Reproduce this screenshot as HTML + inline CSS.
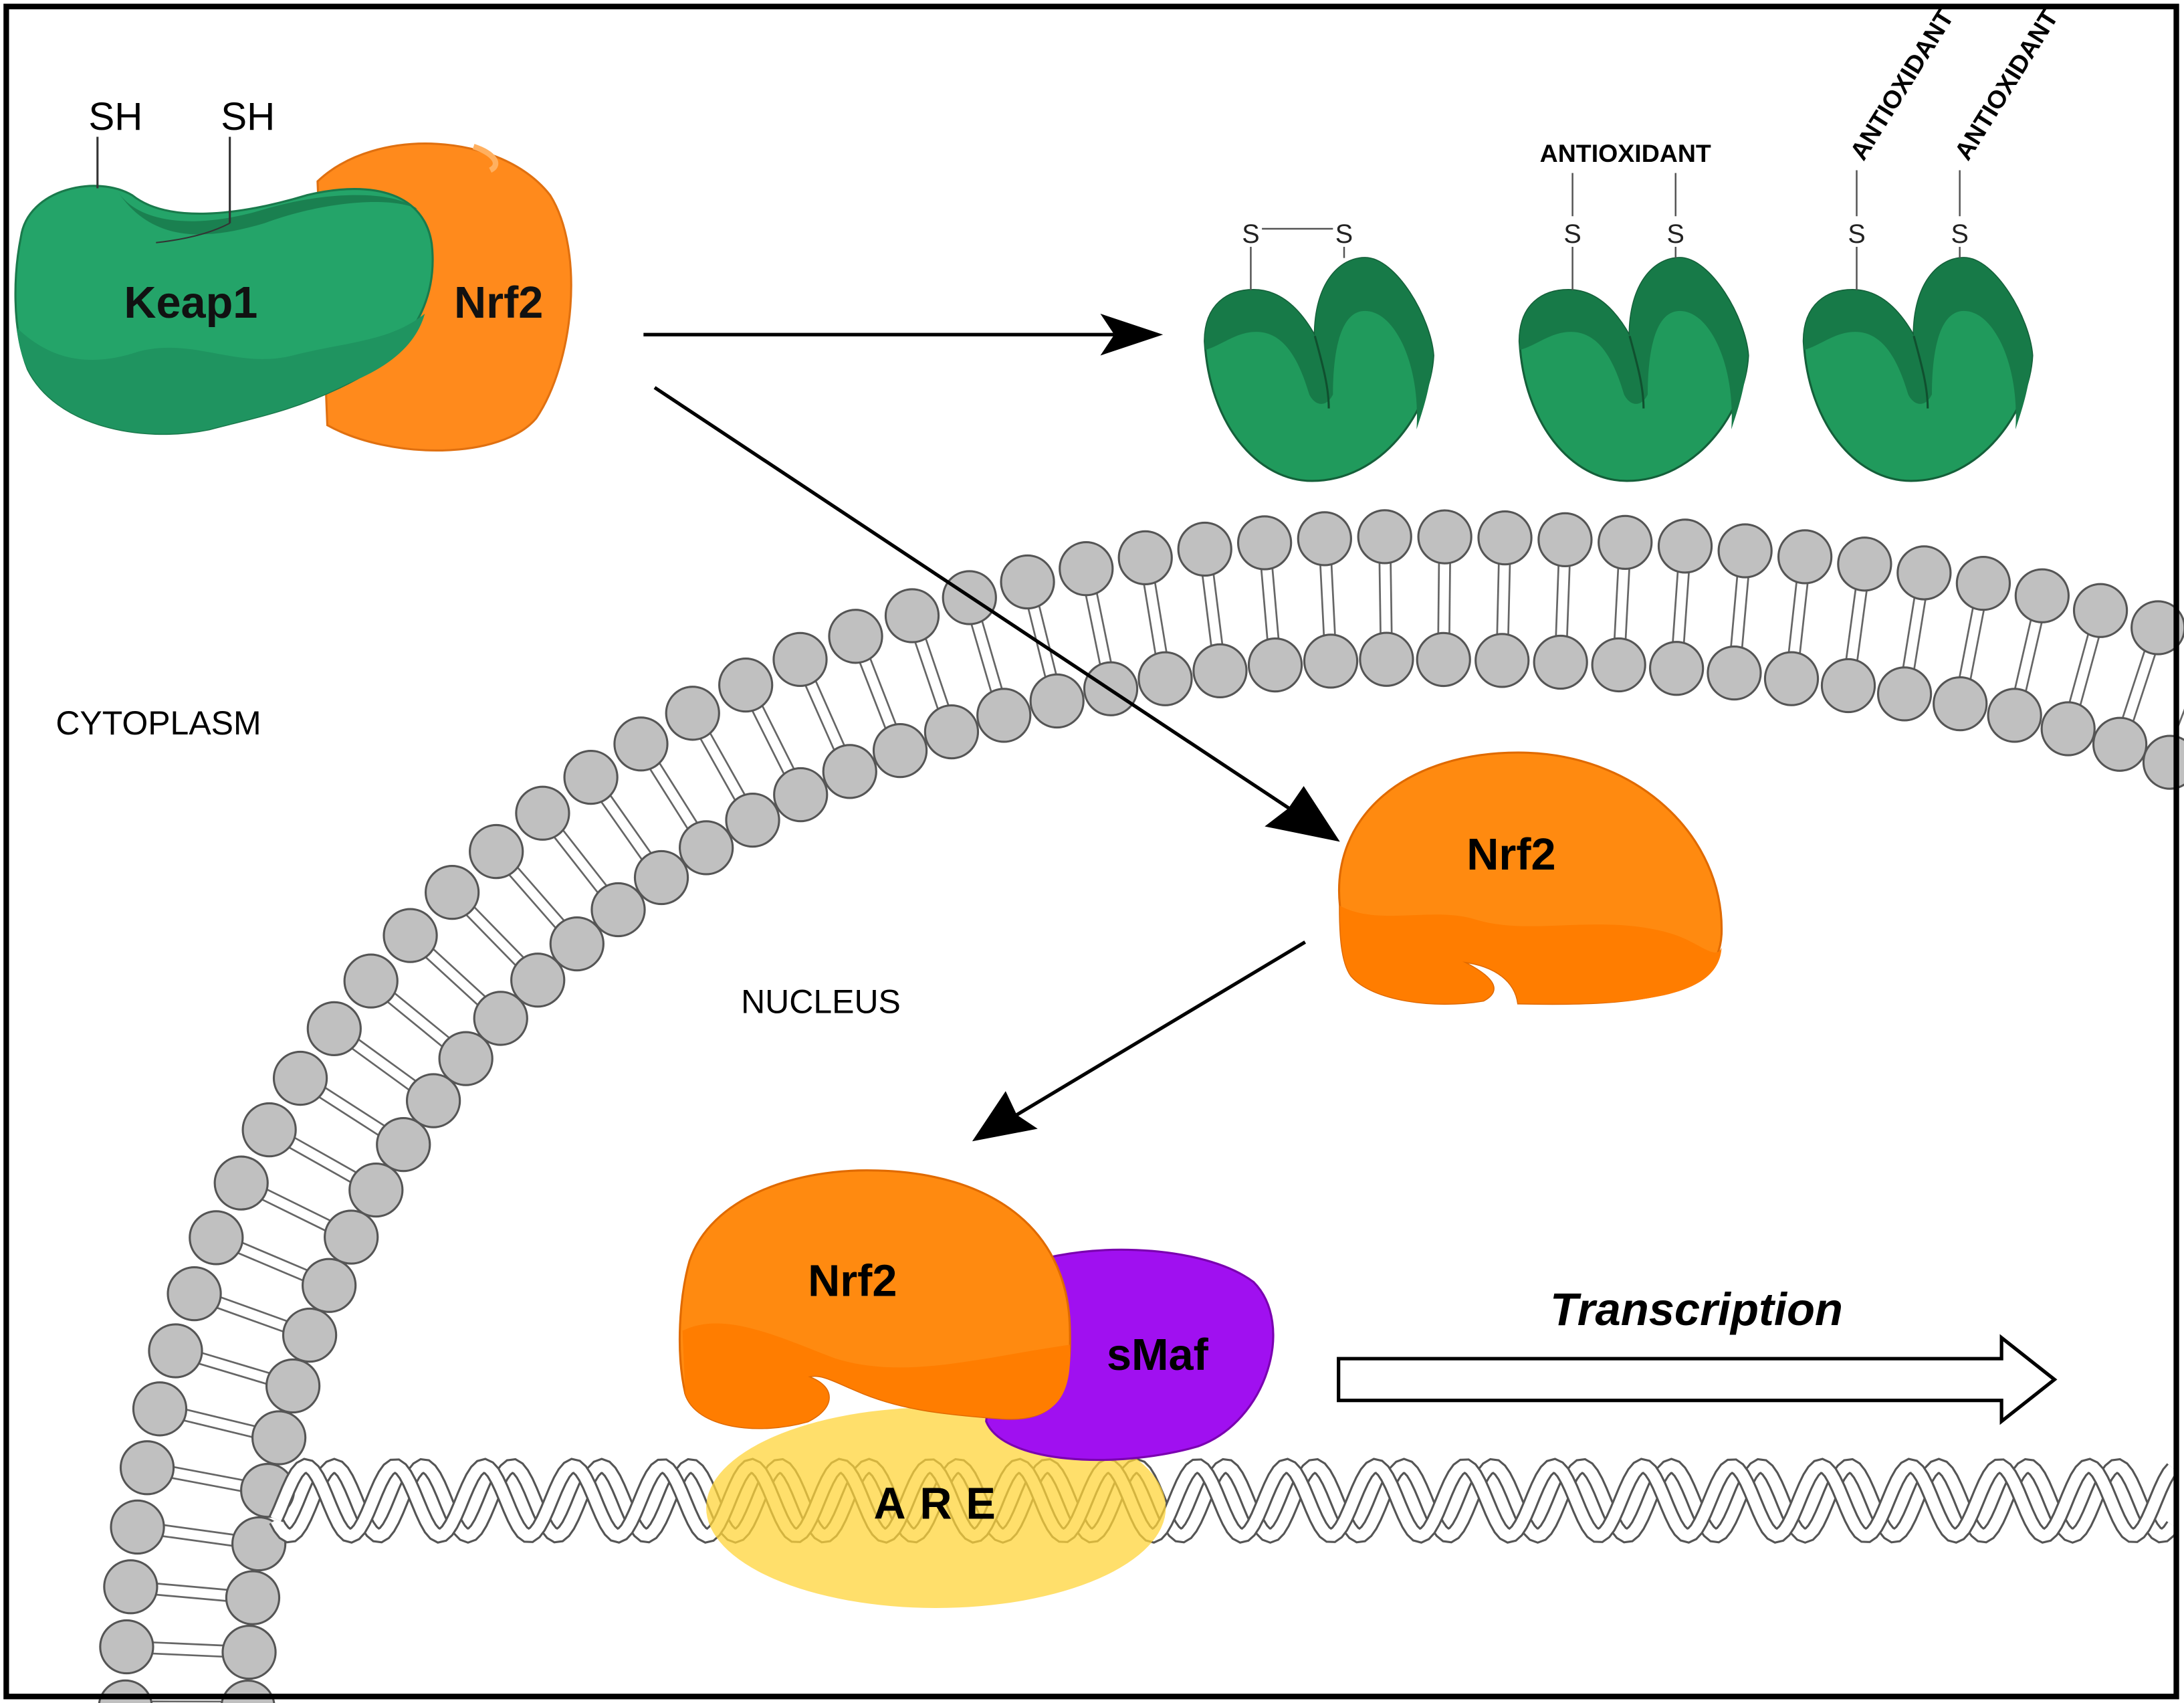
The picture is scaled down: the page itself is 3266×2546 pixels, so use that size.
<!DOCTYPE html>
<html><head><meta charset="utf-8"><style>
html,body{margin:0;padding:0;background:#fff;}
svg{display:block;}
text{font-family:"Liberation Sans",sans-serif;}
</style></head><body>
<svg id="s" width="3266" height="2546" viewBox="0 0 1568 1222" xmlns="http://www.w3.org/2000/svg">
<rect x="0" y="0" width="1568" height="1222" fill="#fff"/>
<g id="mem"></g>
<g id="dna"></g>
<ellipse cx="672" cy="1082" rx="165" ry="72" fill="#ffd43a" opacity="0.75"/>
<text x="676" y="1090" font-size="32" font-weight="bold" text-anchor="middle" letter-spacing="10">ARE</text>

<!-- Keap1 / Nrf2 complex -->
<path d="M228,130 C270,90 360,95 395,140 C420,180 412,260 385,300 C360,330 280,330 235,305 Z" fill="#ff8a1c" stroke="#e07010" stroke-width="1.5"/>
<path d="M340,105 C355,110 360,118 352,122" stroke="#ffb060" stroke-width="4" fill="none"/>
<path d="M15,170 C20,135 70,125 95,140 C120,160 170,155 220,140 C270,128 305,140 310,175 C315,220 290,255 250,275 C210,295 180,300 150,308 C100,318 40,305 20,265 C8,235 10,195 15,170Z" fill="#24a469" stroke="#1a7a4c" stroke-width="1.5"/>
<path d="M12,235 C40,262 70,262 100,252 C140,242 170,265 210,255 C250,245 280,245 305,225 C298,250 275,265 250,275 C210,295 180,300 150,308 C100,318 40,305 20,265 C15,255 13,245 12,235Z" fill="#1f9460"/>
<path d="M85,138 C100,160 140,165 190,150 C230,138 280,135 300,150 C280,140 230,145 190,160 C150,172 110,175 85,138Z" fill="#1a8050"/>
<line x1="70" y1="98" x2="70" y2="135" stroke="#333" stroke-width="1.5"/>
<line x1="165" y1="98" x2="165" y2="160" stroke="#333" stroke-width="1.5"/>
<path d="M165,160 C150,168 130,172 112,174" stroke="#333" stroke-width="1" fill="none"/>
<text x="83" y="93" font-size="28" text-anchor="middle">SH</text>
<text x="178" y="93" font-size="28" text-anchor="middle">SH</text>
<text x="137" y="228" font-size="32" font-weight="bold" text-anchor="middle" fill="#111">Keap1</text>
<text x="358" y="228" font-size="32" font-weight="bold" text-anchor="middle" fill="#111">Nrf2</text>

<defs>
<g id="cup">
<path d="M3,62 C3,35 20,25 38,25 C58,25 72,40 82,58 C82,20 100,2 118,2 C140,2 165,45 167,72 C165,112 130,162 80,162 C40,162 6,120 3,62 Z" fill="#209a5c" stroke="#14603a" stroke-width="1.5"/>
<path d="M3,62 C3,35 20,25 38,25 C58,25 72,40 82,58 C82,20 100,2 118,2 C140,2 165,45 167,72 C165,95 160,110 155,125 C158,80 140,40 118,40 C100,40 95,70 95,100 C90,110 82,108 78,100 C72,80 62,55 40,55 C25,55 15,65 3,68 Z" fill="#177a48"/>
<path d="M82,58 C88,80 92,95 92,110" stroke="#10502f" stroke-width="1.5" fill="none"/>
</g>
</defs>
<use href="#cup" x="862" y="183"/>
<use href="#cup" x="1088" y="183"/>
<use href="#cup" x="1292" y="183"/>
<g stroke="#555" stroke-width="1.2">
<line x1="898" y1="208" x2="898" y2="177"/><line x1="965" y1="185" x2="965" y2="177"/>
<line x1="906" y1="164" x2="957" y2="164"/>
<line x1="1129" y1="208" x2="1129" y2="177"/><line x1="1129" y1="155" x2="1129" y2="124"/>
<line x1="1203" y1="185" x2="1203" y2="177"/><line x1="1203" y1="155" x2="1203" y2="124"/>
<line x1="1333" y1="208" x2="1333" y2="177"/><line x1="1333" y1="155" x2="1333" y2="122"/>
<line x1="1407" y1="185" x2="1407" y2="177"/><line x1="1407" y1="155" x2="1407" y2="122"/>
</g>
<g font-size="19" text-anchor="middle" fill="#222">
<text x="898" y="174">S</text><text x="965" y="174">S</text>
<text x="1129" y="174">S</text><text x="1203" y="174">S</text>
<text x="1333" y="174">S</text><text x="1407" y="174">S</text>
</g>
<text x="1167" y="116" font-size="18" font-weight="bold" text-anchor="middle">ANTIOXIDANT</text>
<text transform="translate(1338,116) rotate(-58)" font-size="18" font-weight="bold">ANTIOXIDANT</text>
<text transform="translate(1413,116) rotate(-58)" font-size="18" font-weight="bold">ANTIOXIDANT</text>

<g stroke="#000" stroke-width="2.5">
<line x1="462" y1="240" x2="800" y2="240"/>
<line x1="470" y1="278" x2="930" y2="583"/>
<line x1="937" y1="676" x2="730" y2="800"/>
</g>
<polygon points="835,240 790,225 800,240 790,255" fill="#000"/>
<polygon points="962,604 908,593 925,580 936,564" fill="#000"/>
<polygon points="698,819 722,783 730,800 745,810" fill="#000"/>

<path d="M962,650 C955,585 1010,540 1090,540 C1175,540 1238,600 1236,670 C1234,715 1180,722 1090,720 C1088,705 1075,693 1050,690 C1070,700 1080,710 1065,718 C1030,724 985,718 970,700 C963,690 962,670 962,650 Z" fill="#ff8a10" stroke="#e06a00" stroke-width="1.5"/>
<path d="M962,650 C990,665 1030,650 1060,660 C1100,672 1150,655 1200,670 C1220,676 1232,690 1236,680 C1234,715 1180,722 1090,720 C1088,705 1075,693 1050,690 C1070,700 1080,710 1065,718 C1030,724 985,718 970,700 C963,690 962,670 962,650Z" fill="#ff7d00"/>
<text x="1085" y="624" font-size="32" font-weight="bold" text-anchor="middle">Nrf2</text>

<path d="M720,915 C760,890 860,890 900,920 C930,950 910,1020 860,1038 C800,1055 720,1050 708,1020 Z" fill="#a010f0" stroke="#7a00b0" stroke-width="1.5"/>
<path d="M495,905 C510,860 570,838 630,840 C710,842 765,880 768,950 C770,1000 760,1020 720,1018 C680,1015 650,1012 620,1000 C600,992 590,985 580,988 C600,995 600,1010 580,1020 C545,1030 500,1025 492,1000 C485,970 488,930 495,905 Z" fill="#ff8a10" stroke="#e06a00" stroke-width="1.5"/>
<path d="M490,955 C520,940 560,960 600,975 C650,990 700,975 768,965 C770,1000 760,1020 720,1018 C680,1015 650,1012 620,1000 C600,992 590,985 580,988 C600,995 600,1010 580,1020 C545,1030 500,1025 492,1000Z" fill="#ff7d00"/>
<text x="612" y="930" font-size="32" font-weight="bold" text-anchor="middle">Nrf2</text>
<text x="831" y="983" font-size="32" font-weight="bold" text-anchor="middle">sMaf</text>

<path d="M961,975 L1437,975 L1437,960 L1475,990 L1437,1020 L1437,1005 L961,1005 Z" fill="#fff" stroke="#000" stroke-width="2.5"/>
<text x="1218" y="951" font-size="33" font-weight="bold" font-style="italic" text-anchor="middle">Transcription</text>

<text x="40" y="527" font-size="24">CYTOPLASM</text>
<text x="532" y="727" font-size="24">NUCLEUS</text>

<rect x="4.5" y="4.5" width="1558" height="1213" fill="none" stroke="#000" stroke-width="4"/>
</svg>
<script>
(function(){
var NS="http://www.w3.org/2000/svg";
var mem=document.getElementById('mem');
var o=document.createElementNS(NS,'path');
o.setAttribute('d',"M90,1225 C90,700 500,390 1000,385 C1250,385 1450,410 1590,465");
o.setAttribute('fill','none');mem.appendChild(o);
var Lo=o.getTotalLength();
var N=Math.round(Lo/43);
var lines="",circ="",D=88;
for(var k=0;k<=N;k++){
 var s=k/N*Lo;var a=o.getPointAtLength(s);
 var a1=o.getPointAtLength(Math.max(0,s-1)),a2=o.getPointAtLength(Math.min(Lo,s+1));
 var tx=a2.x-a1.x,ty=a2.y-a1.y,tl=Math.sqrt(tx*tx+ty*ty);tx/=tl;ty/=tl;
 var ux=-ty,uy=tx; if(ux<0){ux=-ux;uy=-uy;}
 if(uy<0&&ux<0.5){ux=-ux;uy=-uy;}
 var b={x:a.x+ux*D,y:a.y+uy*D};
 var px=-uy*4,py=ux*4;
 var sx=a.x+ux*19,sy=a.y+uy*19,ex=b.x-ux*19,ey=b.y-uy*19;
 lines+='<line x1="'+(sx+px)+'" y1="'+(sy+py)+'" x2="'+(ex+px)+'" y2="'+(ey+py)+'"/>';
 lines+='<line x1="'+(sx-px)+'" y1="'+(sy-py)+'" x2="'+(ex-px)+'" y2="'+(ey-py)+'"/>';
 circ+='<circle cx="'+a.x+'" cy="'+a.y+'" r="19"/><circle cx="'+b.x+'" cy="'+b.y+'" r="19"/>';
}
mem.innerHTML='<g stroke="#666" stroke-width="1.3">'+lines+'</g><g fill="#c0c0c0" stroke="#555" stroke-width="1.5">'+circ+'</g>';
var dna=document.getElementById('dna');
function sine(ph){var s="";for(var x=198;x<=1560;x+=3){var y=1077+25*Math.sin((x/64)*2*Math.PI+ph);s+=(x==198?"M":"L")+x+","+y.toFixed(1);}return s;}
var h="";
[0,2.0].forEach(function(ph){var d=sine(ph);h+='<path d="'+d+'" fill="none" stroke="#555" stroke-width="11"/><path d="'+d+'" fill="none" stroke="#fff" stroke-width="8"/>';});
dna.innerHTML=h;
})();
</script>
</body></html>
